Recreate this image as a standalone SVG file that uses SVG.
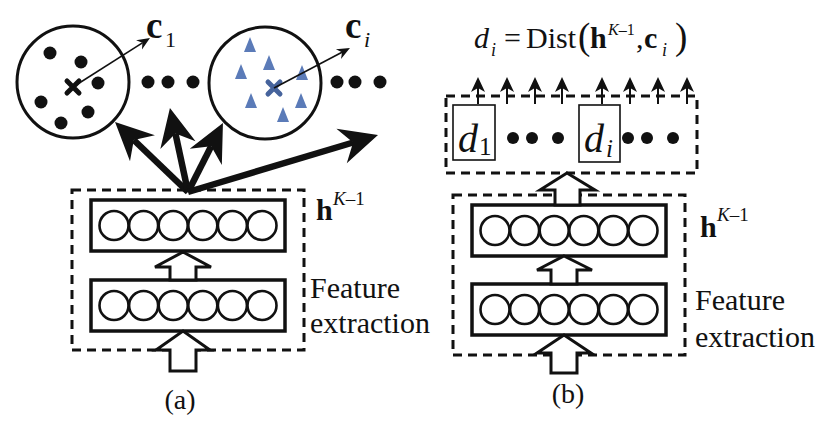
<svg xmlns="http://www.w3.org/2000/svg" width="832" height="429" viewBox="0 0 832 429">
<style>
.t{font-family:"Liberation Serif","Times New Roman",serif;fill:#111}
.dash{fill:none;stroke:#111;stroke-width:3;stroke-dasharray:9 6}
.lay{fill:#fff;stroke:#111;stroke-width:3.5}
.neu{fill:#fff;stroke:#111;stroke-width:2.6}
.hollow{fill:#fff;stroke:#111;stroke-width:3;stroke-linejoin:miter}
.big{fill:none;stroke:#111;stroke-width:3}
.dot{fill:#111}
.tri{fill:#5b7bb8}
.thick{stroke:#111;stroke-width:6.5;fill:none}
.thin{stroke:#111;stroke-width:1.6;fill:none}
.sm{stroke:#111;stroke-width:2;fill:none}
.dbox{fill:#fff;stroke:#111;stroke-width:1.6}
</style>
<defs>
<marker id="bigHead" markerUnits="userSpaceOnUse" viewBox="-40 -20 42 40" markerWidth="42" markerHeight="40" refX="-26" refY="0" orient="auto" overflow="visible"><path d="M0,0 L-38,-18 L-26,0 L-38,18 Z" fill="#111"/></marker>
<marker id="thinHead" markerUnits="userSpaceOnUse" viewBox="-14 -6 16 12" markerWidth="16" markerHeight="12" refX="-9" refY="0" orient="auto" overflow="visible"><path d="M0,0 L-13,-5.5 L-9,0 L-13,5.5 Z" fill="#111"/></marker>
<g id="layerShape">
<rect class="lay" x="0" y="0" width="194" height="51"/>
<circle class="neu" cx="23" cy="25.5" r="14.5"/>
<circle class="neu" cx="52.6" cy="25.5" r="14.5"/>
<circle class="neu" cx="82.2" cy="25.5" r="14.5"/>
<circle class="neu" cx="111.8" cy="25.5" r="14.5"/>
<circle class="neu" cx="141.4" cy="25.5" r="14.5"/>
<circle class="neu" cx="171" cy="25.5" r="14.5"/>
</g>
</defs>
<rect width="832" height="429" fill="#fff"/>

<!-- Panel (a) -->
<g id="cluster1">
<circle class="big" cx="73" cy="82" r="56"/>
<circle class="dot" cx="50" cy="53" r="6.5"/>
<circle class="dot" cx="81" cy="62" r="6.5"/>
<circle class="dot" cx="98" cy="83" r="6.5"/>
<circle class="dot" cx="41" cy="102" r="6.5"/>
<circle class="dot" cx="88" cy="112" r="6.5"/>
<circle class="dot" cx="61" cy="123" r="6.5"/>
<path d="M67,81 L79,93 M79,81 L67,93" stroke="#111" stroke-width="5" stroke-linecap="round"/>
</g>
<g id="cluster2">
<circle class="big" cx="265" cy="83" r="56"/>
<polygon class="tri" points="250,37 244,52 256,52"/>
<polygon class="tri" points="269,55 263,70 275,70"/>
<polygon class="tri" points="241,64 235,79 247,79"/>
<polygon class="tri" points="302,65 296,80 308,80"/>
<polygon class="tri" points="251,93 245,108 257,108"/>
<polygon class="tri" points="301,93 295,108 307,108"/>
<polygon class="tri" points="283,107 277,122 289,122"/>
<path d="M268,82 L280,94 M280,82 L268,94" stroke="#46639c" stroke-width="5" stroke-linecap="round"/>
</g>
<g id="dotsA">
<circle class="dot" cx="148" cy="82" r="6.5"/>
<circle class="dot" cx="168" cy="82" r="6.5"/>
<circle class="dot" cx="193" cy="82" r="6.5"/>
<circle class="dot" cx="337" cy="82" r="6.5"/>
<circle class="dot" cx="355" cy="82" r="6.5"/>
<circle class="dot" cx="380" cy="82" r="6.5"/>
</g>
<g id="labelC1">
<text class="t" x="146" y="38" font-size="37" font-weight="bold">c</text>
<text class="t" x="165" y="47" font-size="22">1</text>
</g>
<g id="labelCi">
<text class="t" x="345" y="38" font-size="37" font-weight="bold">c</text>
<text class="t" x="364" y="47" font-size="22" font-style="italic">i</text>
</g>
<g id="featureA">
<rect class="dash" x="72" y="190" width="232" height="160"/>
<use href="#layerShape" x="91" y="200"/>
<use href="#layerShape" x="91" y="280"/>
</g>
<g id="labelsA">
<text class="t" x="316" y="220" font-size="30" font-weight="bold">h</text>
<text class="t" x="333" y="205" font-size="19"><tspan font-style="italic">K</tspan>–1</text>
<text class="t" x="310" y="298" font-size="30">Feature</text>
<text class="t" x="310" y="333" font-size="30">extraction</text>
<text class="t" x="180" y="409" font-size="28" text-anchor="middle">(a)</text>
</g>

<!-- Panel (b) -->
<g id="formula">
<text class="t" x="474" y="48" font-size="30" font-style="italic">d</text>
<text class="t" x="491" y="56" font-size="18" font-style="italic">i</text>
<text class="t" x="504" y="48" font-size="30">=</text>
<text class="t" x="526" y="48" font-size="30">Dist</text>
<text class="t" x="578" y="49" font-size="37">(</text>
<text class="t" x="590" y="48" font-size="30" font-weight="bold">h</text>
<text class="t" x="608" y="35" font-size="16"><tspan font-style="italic">K</tspan>–1</text>
<text class="t" x="636" y="48" font-size="30">,</text>
<text class="t" x="644" y="48" font-size="30" font-weight="bold">c</text>
<text class="t" x="662" y="56" font-size="18" font-style="italic">i</text>
<text class="t" x="675" y="49" font-size="37">)</text>
</g>
<g id="distBox">
<rect class="dash" x="446" y="96" width="251" height="77"/>
<rect class="dbox" x="453" y="105" width="42" height="55"/>
<rect class="dbox" x="579" y="105" width="41" height="57"/>
<text class="t" x="458" y="152" font-size="40" font-style="italic">d</text>
<text class="t" x="479" y="155" font-size="25">1</text>
<text class="t" x="584" y="152" font-size="40" font-style="italic">d</text>
<text class="t" x="606" y="157" font-size="25" font-style="italic">i</text>
<circle class="dot" cx="513" cy="138" r="6"/>
<circle class="dot" cx="532" cy="138" r="6"/>
<circle class="dot" cx="558" cy="138" r="6"/>
<circle class="dot" cx="628" cy="138" r="6"/>
<circle class="dot" cx="647" cy="138" r="6"/>
<circle class="dot" cx="673" cy="138" r="6"/>
</g>
<g id="featureB">
<rect class="dash" x="453" y="195" width="232" height="160"/>
<use href="#layerShape" x="472" y="205"/>
<use href="#layerShape" x="472" y="284"/>
</g>
<g id="labelsB">
<text class="t" x="700" y="237" font-size="30" font-weight="bold">h</text>
<text class="t" x="717" y="221" font-size="19"><tspan font-style="italic">K</tspan>–1</text>
<text class="t" x="695" y="310" font-size="30">Feature</text>
<text class="t" x="695" y="347" font-size="30">extraction</text>
<text class="t" x="568" y="403" font-size="28" text-anchor="middle">(b)</text>
</g>

<!-- Connectors -->
<g id="connectors">
<line class="thin" x1="73" y1="87" x2="142.4" y2="42.8" marker-end="url(#thinHead)"/>
<line class="thin" x1="274" y1="88" x2="342" y2="52.2" marker-end="url(#thinHead)"/>
<line class="thick" x1="188" y1="192" x2="133.8" y2="140" marker-end="url(#bigHead)"/>
<line class="thick" x1="188" y1="192" x2="175.4" y2="133.4" marker-end="url(#bigHead)"/>
<line class="thick" x1="188" y1="192" x2="211.2" y2="146.2" marker-end="url(#bigHead)"/>
<line class="thick" x1="188" y1="192" x2="353.1" y2="142.5" marker-end="url(#bigHead)"/>
<!-- hollow arrows (a) -->
<polygon class="hollow" points="183,252 211,267 196,267 196,280 170,280 170,267 155,267"/>
<polygon class="hollow" points="183,331 210,350 196,350 196,371 170,371 170,350 156,350"/>
<!-- hollow arrows (b) -->
<polygon class="hollow" points="567,173 595,190 580,190 580,205 555,205 555,190 540,190"/>
<polygon class="hollow" points="564,256 592,270 577,270 577,284 551,284 551,270 537,270"/>
<polygon class="hollow" points="564,335 591,353 577,353 577,373 551,373 551,353 537,353"/>
<!-- small output arrows (b) -->
<g fill="#111">
<path class="sm" d="M478,104 V88 M507,104 V88 M535,104 V88 M562,104 V88 M602,104 V88 M630,104 V88 M658,104 V88 M687,104 V88"/>
<path d="M478,77 L471,92 L478,88 L485,92 Z"/>
<path d="M507,77 L500,92 L507,88 L514,92 Z"/>
<path d="M535,77 L528,92 L535,88 L542,92 Z"/>
<path d="M562,77 L555,92 L562,88 L569,92 Z"/>
<path d="M602,77 L595,92 L602,88 L609,92 Z"/>
<path d="M630,77 L623,92 L630,88 L637,92 Z"/>
<path d="M658,77 L651,92 L658,88 L665,92 Z"/>
<path d="M687,77 L680,92 L687,88 L694,92 Z"/>
</g>
</g>
</svg>
